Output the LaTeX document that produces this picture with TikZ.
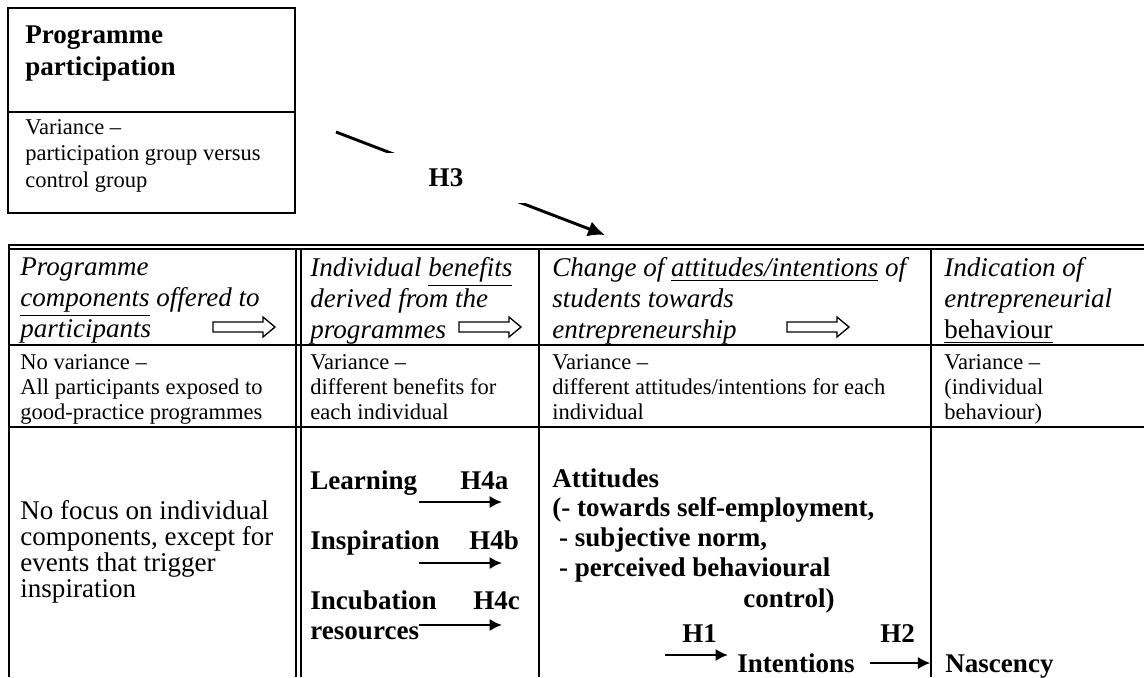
\documentclass[tikz,border=0pt]{standalone}
\usepackage{fontspec}
\setmainfont{Liberation Serif}
\usetikzlibrary{arrows.meta,positioning}

\tikzset{
  txt/.style={anchor=north west,inner sep=0pt,align=left},
  headtxt/.style={txt,font=\fontsize{12}{13.8}\selectfont\itshape},
  vartxt/.style={txt,font=\fontsize{10}{11.2}\selectfont},
  boldtxt/.style={txt,font=\fontsize{12}{13.2}\selectfont\bfseries},
  hyplabel/.style={anchor=west,inner sep=0pt,text height=8pt,text depth=0pt,font=\fontsize{12}{13.2}\selectfont\bfseries},
  thinline/.style={line width=0.9pt},
  thickline/.style={line width=1.3pt},
  hyp/.style={-{Latex[length=5.5pt,width=5.5pt]},line width=1.2pt},
  blockarrow/.pic={\draw[line width=0.6pt] (0,-5) -- (50,-5) -- (50,-10) -- (62,0) -- (50,10) -- (50,5) -- (0,5) -- cycle;}
}

\begin{document}
\begin{tikzpicture}[x=0.444pt,y=-0.444pt]
  \useasboundingbox (0,0) rectangle (1144,677);

  % programme participation box
  \draw[thinline] (8,8) rectangle (295,213);
  \draw[thinline] (8,112) -- (295,112);
  \node(part)[boldtxt,font=\fontsize{12}{14.2}\selectfont\bfseries] at (25,25) {Programme\\participation};
  \node(partvar)[vartxt,font=\fontsize{10}{11.8}\selectfont] at (25,119) {Variance –\\participation group versus\\control group};

  % H3
  \coordinate(h3from) at (336,132);
  \coordinate(h3to) at (605,235);
  \draw[-{Latex[length=7.5pt,width=7pt]},line width=1.3pt] (h3from) -- (h3to);
  \node(h3)[fill=white,minimum width=71pt,minimum height=22pt,font=\fontsize{12}{13.2}\selectfont\bfseries] at (446,178) {H3};

  % table rules
  \draw[thinline] (8,244.5) -- (1144,244.5);
  \draw[thinline] (8,248.5) -- (1144,248.5);
  \draw[thinline] (9,244) -- (9,677);
  \draw[thinline] (296,248) -- (296,677);
  \draw[thinline] (301,248) -- (301,677);
  \draw[thickline] (539,248) -- (539,677);
  \draw[thickline] (931,248) -- (931,677);
  \draw[thickline] (8,345) -- (1144,345);
  \draw[thickline] (8,427) -- (1144,427);

  % header row
  \node(hcomp)[headtxt] at (20,257) {Programme\\\underline{components} offered to\\participants};
  \node(hben)[headtxt] at (310,257) {Individual \underline{benefits}\\derived from the\\programmes};
  \node(hatt)[headtxt] at (552,257) {Change of \underline{attitudes/intentions} of\\students towards\\entrepreneurship};
  \node(hbeh)[headtxt] at (944,257) {Indication of\\entrepreneurial\\{\upshape\underline{behaviour}}};
  \pic at (213,327) {blockarrow};
  \pic at (459,327) {blockarrow};
  \pic at (787,327) {blockarrow};

  % variance row
  \node(vcomp)[vartxt] at (20,354) {No variance –\\All participants exposed to\\good-practice programmes};
  \node(vben)[vartxt] at (310,354) {Variance –\\different benefits for\\each individual};
  \node(vatt)[vartxt] at (552,354) {Variance –\\different attitudes/intentions for each\\individual};
  \node(vbeh)[vartxt] at (944,354) {Variance –\\(individual\\behaviour)};

  % content row
  \node(nofocus)[txt,font=\fontsize{12}{11.6}\selectfont] at (20,500) {No focus on individual\\components, except for\\events that trigger\\inspiration};

  \node(learn)[hyplabel] at (310,480) {Learning};
  \node(h4a)[hyplabel] at (460,480) {H4a};
  \node(insp)[hyplabel] at (310,540) {Inspiration};
  \node(h4b)[hyplabel] at (469,540) {H4b};
  \node(incub)[boldtxt,font=\fontsize{12}{13.3}\selectfont\bfseries] at (310,590) {Incubation\\resources};
  \node(h4c)[hyplabel] at (473,600) {H4c};
  \coordinate(lfrom) at (419,502);
  \coordinate(lto) at (502,502);
  \coordinate(ifrom) at (419,563);
  \coordinate(ito) at (502,563);
  \coordinate(rfrom) at (419,625);
  \coordinate(rto) at (502,625);
  \draw[hyp] (lfrom) -- (lto);
  \draw[hyp] (ifrom) -- (ito);
  \draw[hyp] (rfrom) -- (rto);

  \node(att)[boldtxt] at (552,468) {Attitudes\\(- towards self-employment,\\\hspace*{0.25em}- subjective norm,\\\hspace*{0.25em}- perceived behavioural};
  \node(ctrl)[hyplabel] at (743,598) {control)};
  \node(h1)[hyplabel] at (682,633) {H1};
  \node(intent)[hyplabel] at (737,663) {Intentions};
  \node(h2)[hyplabel] at (880,633) {H2};
  \node(nasc)[hyplabel] at (945,663) {Nascency};
  \coordinate(h1in) at (665,655);
  \draw[hyp,shorten >=4pt] (h1in) -- (h1in -| intent.west);
  \draw[hyp,shorten <=6.5pt,shorten >=6.5pt] (intent.east) -- (intent.east -| nasc.west);

\end{tikzpicture}
\end{document}
